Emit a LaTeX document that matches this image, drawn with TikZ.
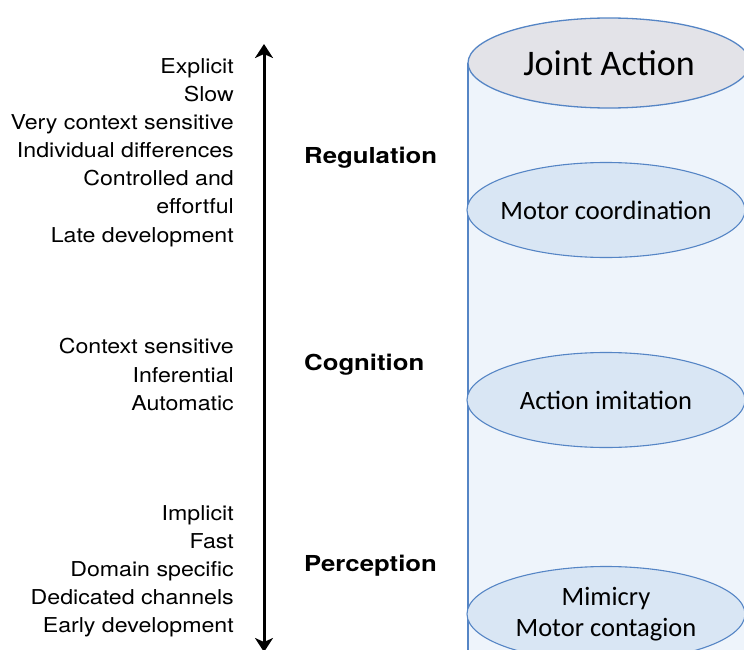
\documentclass[tikz,border=0pt]{standalone}
\usepackage{fontspec}
\newfontfamily\helvf[FakeStretch=1.13]{TeX Gyre Heros}
\newfontfamily\helvbf[FakeStretch=1.17]{TeX Gyre Heros Bold}
\newfontfamily\calibf{Carlito}
\usetikzlibrary{arrows.meta,shapes.geometric}
\definecolor{cylblue}{HTML}{5585C5}
\definecolor{cylbody}{HTML}{EEF4FB}
\definecolor{cyltop}{HTML}{E3E3E8}
\definecolor{ellfill}{HTML}{D9E6F4}
\tikzset{
  props/.style={font=\helvf\fontsize{20.5}{28.1}\selectfont, align=right, anchor=east, inner sep=0pt},
  level/.style={font=\helvbf\fontsize{22}{25}\selectfont, anchor=west, inner sep=0pt},
  layer/.style={ellipse, draw=cylblue, line width=1.1pt, fill=ellfill, minimum width=278pt, minimum height=95pt, inner xsep=-40pt, inner ysep=0pt, font=\calibf\fontsize{26.5}{31}\selectfont, align=center},
  axisarrow/.style={line width=3pt, {Stealth[length=14pt,width=18pt,inset=4pt]}-{Stealth[length=14pt,width=18pt,inset=4pt]}}
}
\begin{document}
\begin{tikzpicture}[x=1pt,y=-1pt]
\useasboundingbox (0,0) rectangle (744,650);
\clip (0,0) rectangle (744,650);
% cylinder body
\fill[cylbody] (468,63) rectangle (760,700);
\draw[cylblue, line width=1.3pt] (468,63) -- (468,660);
% top
\node[ellipse, draw=cylblue, line width=1.3pt, fill=cyltop, minimum width=282pt, minimum height=90pt, inner xsep=-40pt, inner ysep=0pt, font=\calibf\fontsize{36}{40}\selectfont] (joint) at (609,63) {Joint Action};
% layers
\node[layer] (motor) at (606,210) {Motor coordination};
\node[layer] (imit) at (606,400) {Action imitation};
\node[layer] (mimic) at (606,614) {Mimicry\\Motor contagion};
% axis
\coordinate (atop) at (264,44);
\coordinate (abot) at (264,652);
\draw[axisarrow] (abot) -- (atop);
% levels
\node[level] (reg) at (304,157.5) {Regulation};
\node[level] (cog) at (304,364.5) {Cognition};
\node[level] (per) at (304,565.5) {Perception};
% properties
\node[props] (p1) at (234,152.5) {Explicit\\Slow\\Very context sensitive\\Individual differences\\Controlled and\\effortful\\Late development};
\node[props] (p2) at (234,374.5) {Context sensitive\\Inferential\\Automatic};
\node[props] (p3) at (234,571.5) {Implicit\\Fast\\Domain specific\\Dedicated channels\\Early development};
\end{tikzpicture}
\end{document}
